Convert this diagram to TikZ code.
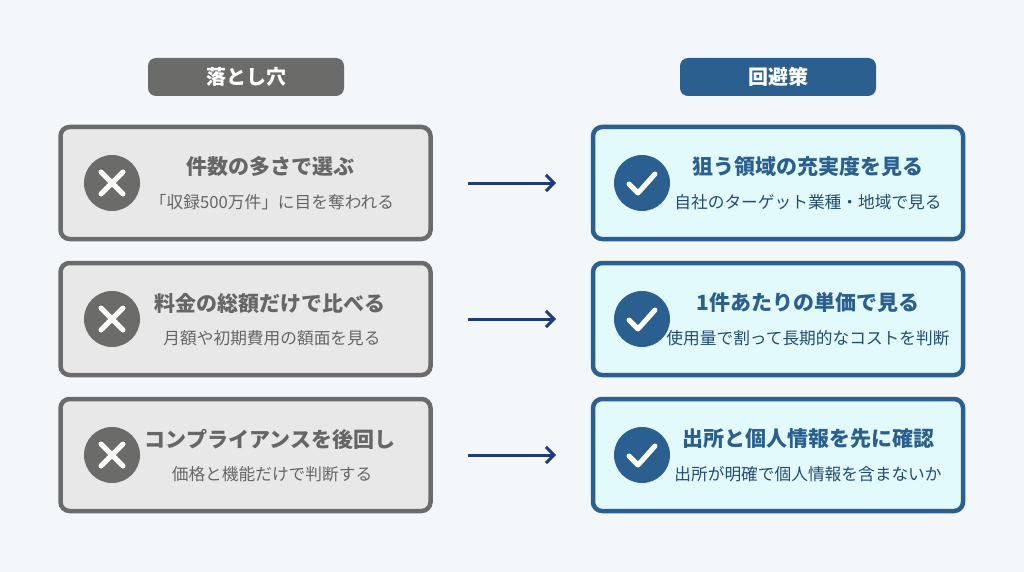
\documentclass[tikz,border=0pt]{standalone}
\usepackage{fontspec}
\setmainfont{Noto Sans CJK JP}
\usetikzlibrary{arrows.meta}
\definecolor{bg}{HTML}{F3F7FA}
\definecolor{gr}{HTML}{6B6B6A}
\definecolor{grf}{HTML}{E8E8E8}
\definecolor{grt}{HTML}{666666}
\definecolor{bl}{HTML}{2A5F8F}
\definecolor{blf}{HTML}{E2FAFC}
\definecolor{nv}{HTML}{1F3A80}
\begin{document}
\begin{tikzpicture}[x=1pt,y=-1pt,
 hdr/.style={rounded corners=8pt,minimum width=196pt,minimum height=38pt,text=white,font=\bfseries\fontsize{20}{24}\selectfont},
 lbox/.style={draw=gr,line width=4.5pt,fill=grf,rounded corners=9pt,minimum width=370pt,minimum height=112pt},
 rbox/.style={draw=bl,line width=4.5pt,fill=blf,rounded corners=9pt,minimum width=370pt,minimum height=112pt},
 ttl/.style={font=\bfseries\fontsize{21}{24}\selectfont},
 sub/.style={font=\fontsize{16.7}{19}\selectfont},
 arr/.style={draw=nv,line width=3pt,-{Straight Barb[length=8pt,width=16pt]}}]
\fill[bg] (0,0) rectangle (1024,572);
\node[hdr,fill=gr] (h1) at (246,77) {落とし穴};
\node[hdr,fill=bl] (h2) at (778,77) {回避策};
\foreach \i/\y/\lt/\ls/\rt/\rs in {
 1/183/件数の多さで選ぶ/「収録500万件」に目を奪われる/狙う領域の充実度を見る/自社のターゲット業種・地域で見る,
 2/319/料金の総額だけで比べる/月額や初期費用の額面を見る/1件あたりの単価で見る/使用量で割って長期的なコストを判断,
 3/455/コンプライアンスを後回し/価格と機能だけで判断する/出所と個人情報を先に確認/出所が明確で個人情報を含まないか}{
 \node[lbox] (L\i) at (245.5,\y) {};
 \node[rbox] (R\i) at (778,\y) {};
 \node[circle,fill=gr,minimum size=56pt] (xc\i) at (112,\y) {};
 \draw[white,line width=5pt,line cap=round] ([shift={(-11,-11)}]xc\i.center) -- ([shift={(11,11)}]xc\i.center) ([shift={(-11,11)}]xc\i.center) -- ([shift={(11,-11)}]xc\i.center);
 \node[circle,fill=bl,minimum size=56pt] (cc\i) at (642,\y) {};
 \draw[white,line width=5pt,line cap=round,line join=round] ([shift={(-13,1)}]cc\i.center) -- ([shift={(-4,10)}]cc\i.center) -- ([shift={(13,-9)}]cc\i.center);
 \node[ttl,text=grt] (lt\i) at (270,\y-16) {\lt};
 \node[sub,text=grt] (ls\i) at (272,\y+19) {\ls};
 \node[ttl,text=bl] (rt\i) at (808,\y-16) {\rt};
 \node[sub,text=bl!80!black] (rs\i) at (808,\y+19) {\rs};
 \coordinate (a\i) at (468,\y); \coordinate (b\i) at (556,\y);
 \draw[arr] (a\i) -- (b\i);
}
\end{tikzpicture}
\end{document}
